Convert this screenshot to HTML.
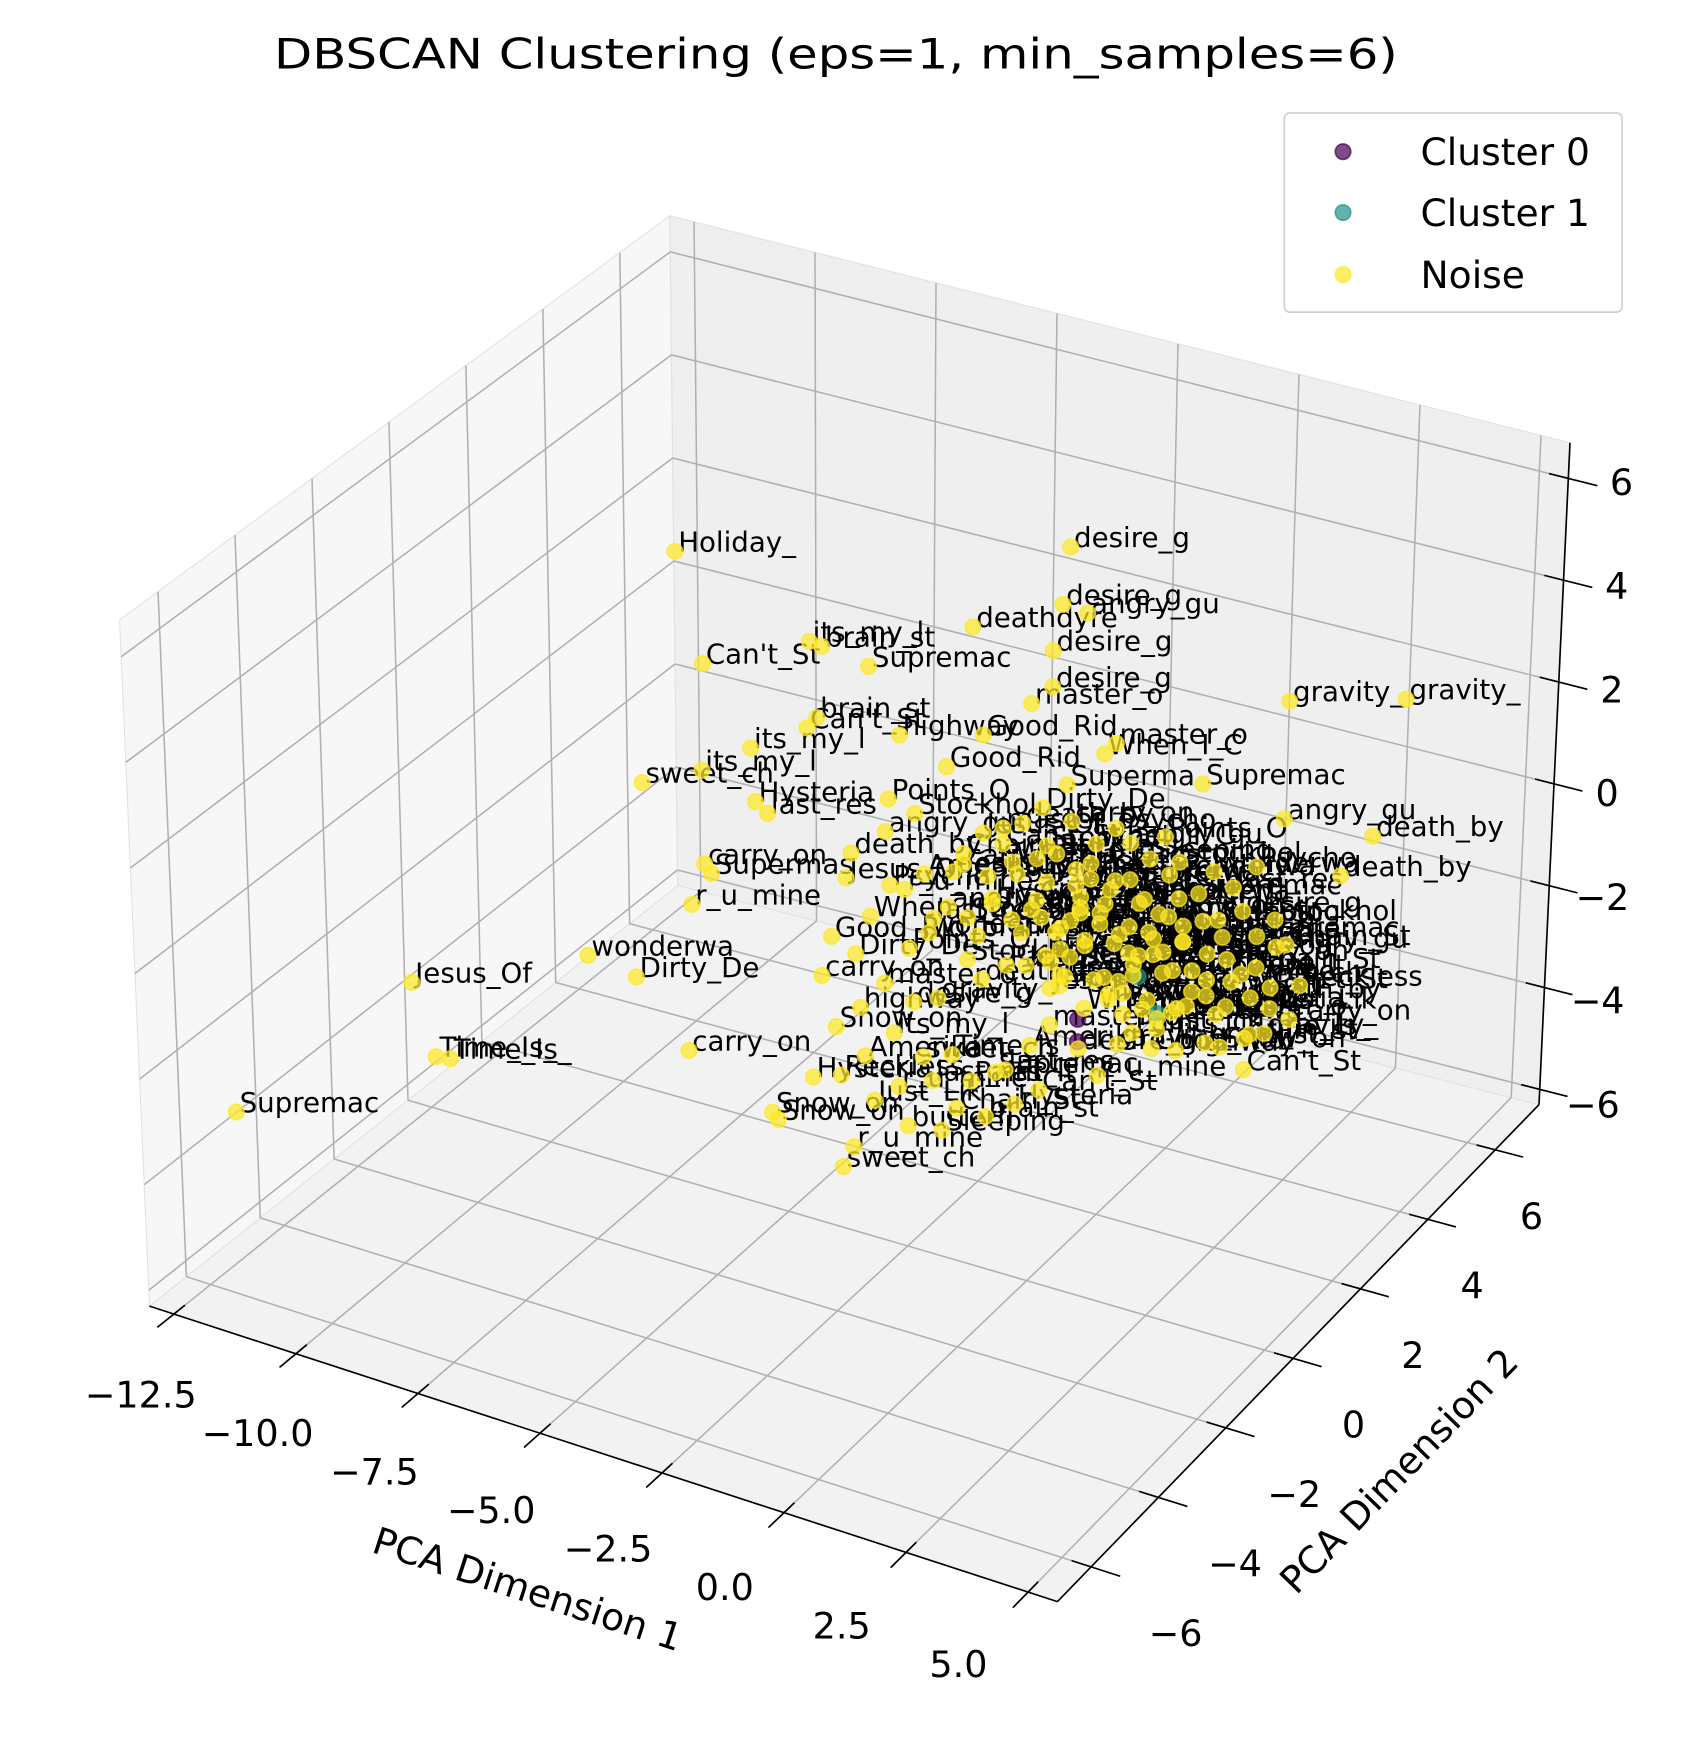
<!DOCTYPE html>
<html><head><meta charset="utf-8">
<style>
html,body{margin:0;padding:0;background:#fff;}
svg{display:block;}
text{font-family:"DejaVu Sans","Liberation Sans",sans-serif;}
</style></head>
<body>
<svg id="chart" width="1694" height="1740" viewBox="0 0 1530 1572" preserveAspectRatio="none" xmlns="http://www.w3.org/2000/svg">
<rect x="0" y="0" width="1530" height="1572" fill="#fff"/>
<g id="panes"></g>
<g id="grid"></g>
<g id="axes"></g>
<g id="labels"></g>
<g id="points"></g>
<text x="755" y="62" font-size="38" text-anchor="middle" textLength="1015" lengthAdjust="spacingAndGlyphs">DBSCAN Clustering (eps=1, min_samples=6)</text>
<g>
<rect x="1160" y="102" width="305" height="180" rx="5" fill="#fff" fill-opacity="0.85" stroke="#d0d0d0" stroke-width="1.5"/>
<g><circle cx="1213" cy="137" r="7" fill="#440154" fill-opacity="0.7" stroke="#440154" stroke-opacity="0.7" stroke-width="1.5"/><text x="1283" y="149" font-size="34">Cluster 0</text></g>
<g><circle cx="1213" cy="192" r="7" fill="#21918c" fill-opacity="0.7" stroke="#21918c" stroke-opacity="0.7" stroke-width="1.5"/><text x="1283" y="204" font-size="34">Cluster 1</text></g>
<g><circle cx="1213" cy="248" r="7" fill="#fde725" fill-opacity="0.7" stroke="#fde725" stroke-opacity="0.7" stroke-width="1.5"/><text x="1283" y="260" font-size="34">Noise</text></g>
</g>
<text x="473" y="1447" font-size="34" text-anchor="middle" transform="rotate(18 473 1447)">PCA Dimension 1</text>
<text x="1272" y="1337" font-size="34" text-anchor="middle" transform="rotate(-46 1272 1337)">PCA Dimension 2</text>
</svg>
<script>
// axis limits
const xLim = [-13, 5.6];
const yLim = [-7, 7.3];
const zLim = [-6.3, 6.7];
const xTicks = [-12.5, -10, -7.5, -5, -2.5, 0, 2.5, 5];
const xTickLabels = ["\u221212.5","\u221210.0","\u22127.5","\u22125.0","\u22122.5","0.0","2.5","5.0"];
const yTicks = [-6, -4, -2, 0, 2, 4, 6];
const yTickLabels = ["\u22126","\u22124","\u22122","0","2","4","6"];
const zTicks = [-6, -4, -2, 0, 2, 4, 6];
const zTickLabels = ["\u22126","\u22124","\u22122","0","2","4","6"];

// noise outliers with labels
const outX = [-7.26,0.69,0.55,1.05,-1.25,0.37,-4.55,-4.3,-6.72,-3.35,0.37,-0.05,5.13,7.45,-4.4,-4.6,-2.72,-1.02,-5.75,-1.76,1.67,1.44,-7.98,-6.75,0.69,3.43,-5.66,-5.41,-2.94,5.09,6.88,6.26,4.56,-6.71,-6.57,-6.98,-9.15,-8.15,-12.85,-12.38,-12.08,-7.07,-16.66,-5.33,-5.21,-4.48,-3.85,-3.63,4.96];
const outY = [0,0,0,0,0,0,0,0,0,0,0,0,0,0,0,0,0,0,0,0,0,0,0,0,0,0,0,0,0,0,0,0,0,0,0,0,0,0,0,0,0,0,0,0,0,0,0,0,0];
const outZ = [5.74,7.92,6.78,6.75,5.88,5.85,4.73,4.7,3.73,4.57,5.16,4.73,6.14,6.79,3.31,3.06,3.42,3.87,2.37,3.07,4.42,4.16,1.12,1.68,3.37,4.11,1.37,1.21,2.14,3.88,4.02,3.1,2.82,-0.1,-0.25,-0.95,-2.5,-2.65,-4.0,-5.3,-5.26,-3.77,-7.5,-4.49,-4.6,-3.59,-5.14,-4.7,1.91];
const outNames = ["Holiday_","desire_g","desire_g","angry_gu","deathdyre","desire_g","its_my_l","brain_st","Can't_St","Supremac","desire_g","master_o","gravity_","gravity_","brain_st","Can't_St","highway","Good_Rid","its_my_l","Good_Rid","master_o","When_I_C","sweet_ch","its_my_l","Superma","Supremac","Hysteria","last_res","Points_O","angry_gu","death_by","death_by","Psycho","carry_on","Supermas","r_u_mine","wonderwa","Dirty_De","Jesus_Of","Time_Is_","Time_Is_","carry_on","Supremac","Snow_on","Snow_on","Hysteria","sweet_ch","r_u_mine","Stockhol"];

// dense noise cloud
const cloudX = [0.2,0.6,1.0,1.3,1.7,2.1,2.5,2.9,0.4,0.9,1.5,1.9,2.3,2.7,3.1,0.1,0.7,1.1,1.6,2.0,2.4,2.8,3.3,0.3,0.8,1.2,1.8,2.2,2.6,3.0,-0.2,-0.5,-0.3,-0.8,-1.1,-0.6,-1.4,-1.0,-1.7,-1.3,
 -1.0,-0.4,0.3,1.0,1.7,2.4,3.1,-1.6,-0.8,0.0,0.6,1.4,2.0,2.7,3.6,-2.2,-2.6,-2.0,-1.4,0.5,1.2,2.2,3.8,4.3,4.6,4.0,3.6,4.4,0.8,-0.2,2.0,3.0,
 -3.8,-3.3,-2.9,-2.5,-2.1,-3.6,-3.0,-2.4,-1.9,-4.1,-3.5,-2.8,-2.2,-1.6,-4.0,-3.4,-2.7,-2.0,-1.5,-3.9,-3.2,-2.5,-1.8,-1.2,-0.7,-0.3,-0.9,0.2,-4.3,-3.7,-3.0,-2.4,
 0.6,1.1,1.6,2.1,2.6,3.2,0.4,1.0,1.8,2.5,3.0,3.6,4.1,4.5,3.9,0.0,1.4,-0.5,5.2,5.5,4.9,
 0.5,1.0,1.5,2.0,2.5,3.0,3.5,4.0,4.5,5.0,0.3,0.8,1.3,1.8,2.3,2.8,3.3,3.8,4.3,4.8,
 0.1,0.6,1.1,1.6,2.1,2.6,3.1,3.6,4.1,4.6,0.9,1.4,1.9,2.4,2.9,3.4,3.9,4.4,4.9,5.3,
 -0.4,-0.9,-1.3,-0.1,0.4,1.7,2.7,3.7,0.2,-0.6];
const cloudZ = [0.7,0.2,1.0,-0.2,0.6,0.1,0.9,-0.4,-0.6,1.5,1.3,-0.7,1.6,0.3,1.0,1.8,-0.3,0.4,-0.5,1.0,-0.3,1.4,0.1,0.0,0.8,2.0,-0.1,0.5,-0.8,1.8,0.3,-0.4,1.4,0.8,0.0,1.9,1.3,-0.8,0.4,-0.5,
 2.0,1.6,1.4,1.1,1.8,1.0,1.3,1.1,0.7,0.8,0.6,0.9,0.5,0.7,0.9,0.9,0.5,0.1,1.5,2.0,1.7,1.5,1.6,0.7,1.5,0.0,-0.8,-1.1,2.7,2.4,2.6,2.5,
 0.4,-0.2,0.5,-0.6,-0.2,-1.0,-1.4,-1.6,-1.4,-0.8,-2.0,-2.3,-2.6,-2.4,-2.5,-2.9,-3.3,-3.0,-3.4,-3.4,-3.7,-4.0,-3.9,-2.8,-2.5,-3.0,-3.4,-2.6,-1.6,0.9,1.5,2.0,
 -0.3,-0.8,-0.4,-1.0,-0.6,-0.2,-1.3,-1.6,-1.3,-1.2,-1.1,0.1,0.5,-0.4,-0.8,-1.8,-2.0,-2.4,1.5,0.8,0.2,
 0.5,1.3,-0.1,1.9,0.6,-0.3,1.5,0.9,0.3,1.4,2.1,0.1,2.4,0.8,-0.5,2.2,0.5,-0.2,1.9,-0.3,
 1.0,-0.5,0.5,1.6,0.3,1.4,1.0,0.4,2.3,0.9,1.8,1.1,-0.3,2.4,0.4,2.0,1.3,-0.5,0.6,0.1,
 0.5,1.2,0.3,-0.3,-0.1,2.8,2.9,2.5,2.8,2.2];
const cloudNames = ["Supremac","Hysteria","brain_st","Can't_St","carry_on","death_by","angry_gu","Stockhol","Jesus_Of","When_I_C","Psycho","Points_O","wonderwa","Dirty_De","master_o","desire_g","gravity_","Good_Rid","highway","its_my_l","sweet_ch","Time_Is_","Snow_on","Amerika","r_u_mine","last_res","Chain_St","Reckless","Just_Lik","butterfl","Sleeping","Paint_It"];

// clusters
const c0X = [0.98, 0.98];
const c0Z = [-1.04, -1.47];
const c1X = [2.2, 2.6];
const c1Z = [0.1, -0.5];

const NS = "http://www.w3.org/2000/svg";
const A=[135,1180],B=[955,1447],C=[1390,998],D=[612,800];
const At=[108,560],Bt=[965,817],Ct=[1418,400],Dt=[605,195];
function bil(p00,p10,p11,p01,u,v){
  return [p00[0]*(1-u)*(1-v)+p10[0]*u*(1-v)+p11[0]*u*v+p01[0]*(1-u)*v,
          p00[1]*(1-u)*(1-v)+p10[1]*u*(1-v)+p11[1]*u*v+p01[1]*(1-u)*v];
}
function P(x,y,z){
  const u=(x-xLim[0])/(xLim[1]-xLim[0]);
  const v=(y-yLim[0])/(yLim[1]-yLim[0]);
  const w=(z-zLim[0])/(zLim[1]-zLim[0]);
  const f=bil(A,B,C,D,u,v), t=bil(At,Bt,Ct,Dt,u,v);
  return [f[0]+(t[0]-f[0])*w, f[1]+(t[1]-f[1])*w];
}
function mk(tag,attrs,parent){
  const e=document.createElementNS(NS,tag);
  for(const k in attrs)e.setAttribute(k,attrs[k]);
  parent.appendChild(e);return e;
}
const panes=document.getElementById('panes'),grid=document.getElementById('grid'),axes=document.getElementById('axes');
const labelsG=document.getElementById('labels'),pointsG=document.getElementById('points');
function poly(pts,fill,name){
  const e=mk('polygon',{points:pts.map(p=>p.join(',')).join(' '),fill:fill,stroke:'#e2e2e2','stroke-width':1},panes);
  
  
}
poly([A,B,C,D],'#f2f2f2','floor-pane');
poly([A,D,Dt,At],'#f7f7f7','left-pane');
poly([D,C,Ct,Dt],'#efefef','back-pane');
function line(p,q,color,w,parent,name){
  const e=mk('line',{x1:p[0],y1:p[1],x2:q[0],y2:q[1],stroke:color,'stroke-width':w},parent);
  
  
  return e;
}
const gc='#b0b0b0';
xTicks.forEach(x=>{
  line(P(x,yLim[0],zLim[0]),P(x,yLim[1],zLim[0]),gc,1.4,grid,'x-gridline');
  line(P(x,yLim[1],zLim[0]),P(x,yLim[1],zLim[1]),gc,1.4,grid,'x-gridline');
});
yTicks.forEach(y=>{
  line(P(xLim[0],y,zLim[0]),P(xLim[1],y,zLim[0]),gc,1.4,grid,'y-gridline');
  line(P(xLim[0],y,zLim[0]),P(xLim[0],y,zLim[1]),gc,1.4,grid,'y-gridline');
});
zTicks.forEach(z=>{
  line(P(xLim[0],yLim[0],z),P(xLim[0],yLim[1],z),gc,1.4,grid,'z-gridline');
  line(P(xLim[0],yLim[1],z),P(xLim[1],yLim[1],z),gc,1.4,grid,'z-gridline');
});
line(P(xLim[0],yLim[0],zLim[0]),P(xLim[1],yLim[0],zLim[0]),'#000',1.5,axes,'x-axis-line');
line(P(xLim[1],yLim[0],zLim[0]),P(xLim[1],yLim[1],zLim[0]),'#000',1.5,axes,'y-axis-line');
line(P(xLim[1],yLim[1],zLim[0]),P(xLim[1],yLim[1],zLim[1]),'#000',1.5,axes,'z-axis-line');
function tlabel(txt,p,name){
  const e=mk('text',{x:p[0],y:p[1],'font-size':33,'text-anchor':'middle','dominant-baseline':'middle'},axes);
  e.textContent=txt;
  
  
}
xTicks.forEach((x,i)=>{
  line(P(x,yLim[0]+0.3,zLim[0]),P(x,yLim[0]-0.45,zLim[0]),'#000',1.5,axes,'x-tick');
  const p=P(x,yLim[0],zLim[0]);const fx=(x-xLim[0])/(xLim[1]-xLim[0]);
  tlabel(xTickLabels[i],[p[0]-29-35*fx,p[1]+75-8*fx],'x-tick-label');
});
yTicks.forEach((y,i)=>{
  line(P(xLim[1]-0.4,y,zLim[0]),P(xLim[1]+0.6,y,zLim[0]),'#000',1.5,axes,'y-tick');
  const p=P(xLim[1],y,zLim[0]);const fy=(y-yLim[0])/(yLim[1]-yLim[0]);
  tlabel(yTickLabels[i],[p[0]+80-52*fy,p[1]+62],'y-tick-label');
});
zTicks.forEach((z,i)=>{
  line(P(xLim[1]-0.4,yLim[1],z),P(xLim[1]+0.6,yLim[1],z),'#000',1.5,axes,'z-tick');
  const p=P(xLim[1],yLim[1],z);const fz=(z-zLim[0])/(zLim[1]-zLim[0]);
  tlabel(zTickLabels[i],[p[0]+48,p[1]+16-11*fz],'z-tick-label');
});
function dot(p,color,name){
  const c=mk('circle',{cx:p[0],cy:p[1],r:7,fill:color,'fill-opacity':0.72,stroke:color,'stroke-opacity':0.72,'stroke-width':1.5},pointsG);
  
  
}
function plabel(p,txt){
  const t=mk('text',{x:p[0]+3,y:p[1],'font-size':25},labelsG);
  t.textContent=txt;
  
  
}
cloudX.forEach((x,i)=>{const p=P(x,0,cloudZ[i]);plabel(p,cloudNames[i%cloudNames.length]);});
outX.forEach((x,i)=>{const p=P(x,outY[i],outZ[i]);plabel(p,outNames[i]);});
c0X.forEach((x,i)=>{dot(P(x,0,c0Z[i]),'#440154','cluster-0-point');});
c1X.forEach((x,i)=>{dot(P(x,0,c1Z[i]),'#21918c','cluster-1-point');});
cloudX.forEach((x,i)=>{dot(P(x,0,cloudZ[i]),'#fde725','noise-point');});
outX.forEach((x,i)=>{dot(P(x,outY[i],outZ[i]),'#fde725','noise-point');});
</script>
</body></html>
